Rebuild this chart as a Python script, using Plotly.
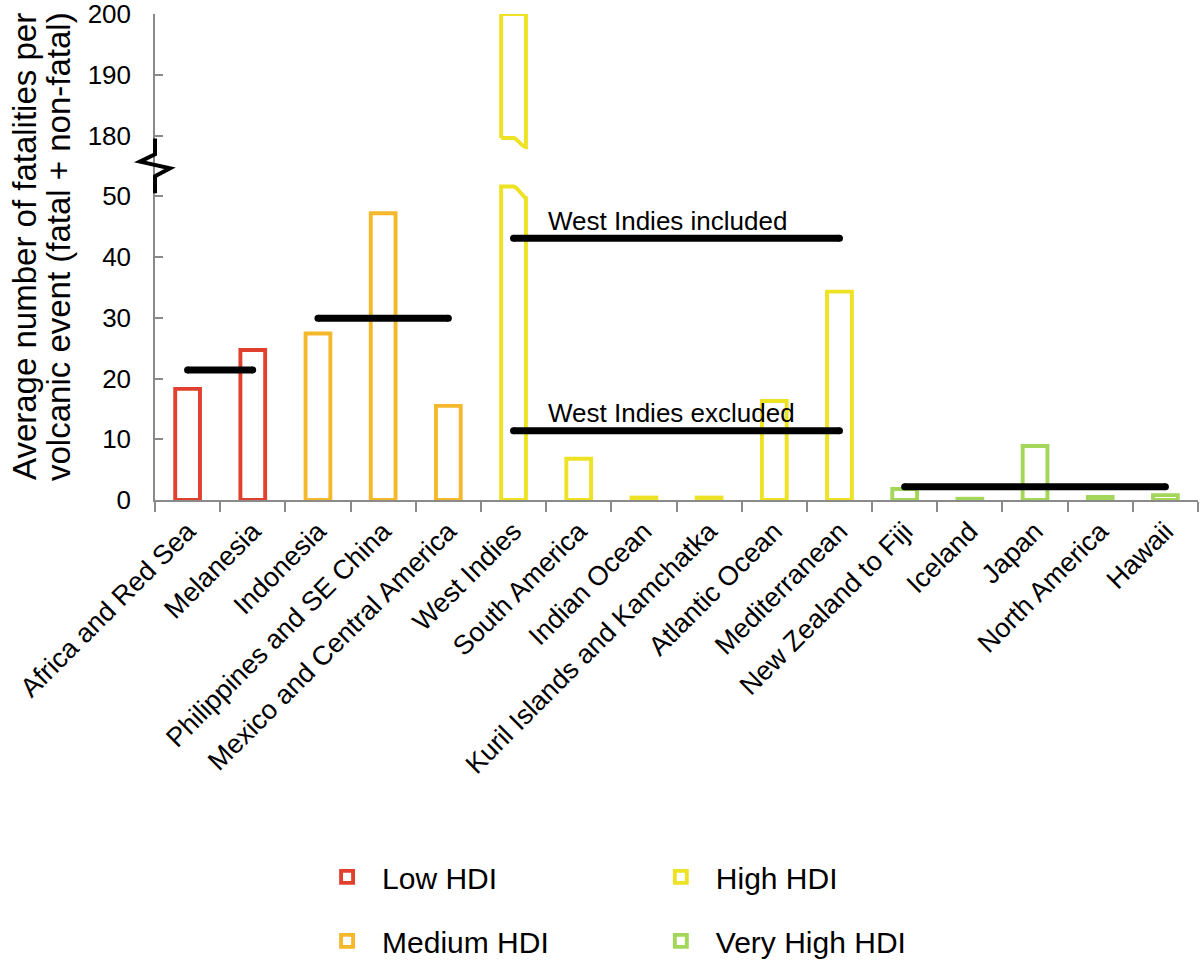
import numpy as np
import plotly.graph_objects as go

# ---------------- data ----------------
categories = ["Africa and Red Sea", "Melanesia", "Indonesia", "Philippines and SE China",
              "Mexico and Central America", "West Indies", "South America", "Indian Ocean",
              "Kuril Islands and Kamchatka", "Atlantic Ocean", "Mediterranean",
              "New Zealand to Fiji", "Iceland", "Japan", "North America", "Hawaii"]
values = [18.3, 24.7, 27.4, 47.2, 15.5, 200.0, 6.8, 0.4, 0.4, 16.3, 34.3, 1.8, 0.2, 8.9, 0.5, 0.8]
hdi_group = ["Low HDI"] * 2 + ["Medium HDI"] * 3 + ["High HDI"] * 6 + ["Very High HDI"] * 5
group_names = ["Low HDI", "Medium HDI", "High HDI", "Very High HDI"]
group_colors = {"Low HDI": "#E2402F", "Medium HDI": "#F5B82A",
                "High HDI": "#EDE224", "Very High HDI": "#A4D65A"}

# group averages (black lines)
mean_labels = ["Low HDI", "Medium HDI", "West Indies included", "West Indies excluded", "Very High HDI"]
mean_values = [21.4, 29.9, 43.1, 11.4, 2.2]
mean_groups = ["Low HDI", "Medium HDI", "High HDI", "High HDI", "Very High HDI"]

# y axis ticks (broken axis: 50 -> 180)
y_tick_labels = [0, 10, 20, 30, 40, 50, 180, 190, 200]
axis_break_from, axis_break_to = 50, 180
# West Indies bar break edges (real values: left edge, right edge)
bar_break_lower = (51.6, 49.7)
bar_break_upper = (179.6, 178.1)

y_title_lines = ["Average number of fatalities per", "volcanic event (fatal + non-fatal)"]

FONT = "Liberation Sans, Arial, Helvetica, sans-serif"
BAR_W = 0.38
LW = 3.9
W, H = 1200, 962
ML, MR, MT, MB = 155, 2, 14, 462


def to_plot(v):
    v = np.asarray(v, dtype=float)
    gap = axis_break_to - (axis_break_from + 10)
    return np.where(v <= axis_break_from + 5, v, v - gap)


idx = np.arange(len(categories))
wi = categories.index("West Indies")

fig = go.Figure()

# bars per group
for g in group_names:
    sel = [i for i in idx if hdi_group[i] == g and i != wi]
    fig.add_trace(go.Bar(
        x=[int(i) for i in sel], y=[values[i] for i in sel], width=BAR_W,
        marker=dict(color="white", line=dict(color=group_colors[g], width=LW)),
        name=g, legendgroup=g,
        legend="legend" if g in ("Low HDI", "Medium HDI") else "legend2",
        showlegend=True, hoverinfo="skip"))

# West Indies broken bar, drawn as two outlined pieces
x0, x1, xm = wi - BAR_W / 2, wi + BAR_W / 2, wi
t = np.linspace(0, 1, 21)
cx = xm + (x1 - xm) * t
lo_l, lo_r = to_plot(bar_break_lower)
up_l, up_r = to_plot(bar_break_upper)
top = float(to_plot(values[wi]))
cy_lo = lo_l - (lo_l - lo_r) * (1 - np.cos(np.pi * t)) / 2
cy_up = up_l - (up_l - up_r) * (1 - np.cos(np.pi * t)) / 2
col = group_colors[hdi_group[wi]]
lower_x = [x0, x0, xm] + list(cx) + [x1, x0]
lower_y = [0, lo_l, lo_l] + list(cy_lo) + [0, 0]
upper_x = [x0, x0, x1] + list(cx[::-1]) + [x0]
upper_y = [up_l, top, top] + list(cy_up[::-1]) + [up_l]
for xs, ys in ((lower_x, lower_y), (upper_x, upper_y)):
    fig.add_trace(go.Scatter(x=xs, y=ys, mode="lines", fill="toself", fillcolor="white",
                             line=dict(color=col, width=LW), showlegend=False,
                             hoverinfo="skip", cliponaxis=False))

# mean lines
for lab, m, g in zip(mean_labels, mean_values, mean_groups):
    members = [i for i in idx if hdi_group[i] == g]
    xs = [int(members[0]), int(members[-1])]
    fig.add_trace(go.Scatter(x=xs, y=[m, m], mode="lines+markers",
                             line=dict(color="black", width=7),
                             marker=dict(color="black", size=7),
                             showlegend=False, hoverinfo="skip", cliponaxis=False))
    if lab.startswith("West Indies"):
        fig.add_annotation(x=xs[0] + 0.5, y=m + 2.9, text=lab, showarrow=False,
                           xanchor="left", yanchor="middle",
                           font=dict(family=FONT, size=26, color="black"))

# y axis title, one annotation per line (tight line spacing as in the original)
pw, ph = W - ML - MR, H - MT - MB
for k, (line, xc) in enumerate(zip(y_title_lines, [24, 58])):
    fig.add_annotation(x=(xc - ML) / pw, y=(H - MB - 247) / ph, xref="paper", yref="paper",
                       text=line, textangle=-90, showarrow=False,
                       xanchor="center", yanchor="middle",
                       font=dict(family=FONT, size=33, color="black"))

# axis break marker
yb = [59.5, 56.9, 55.7, 54.6, 53.3, 50.5]
xb = [0, 0, -0.0144, 0.0144, 0, 0]
path = "M " + " L ".join(f"{a},{b}" for a, b in zip(xb, yb))
fig.add_shape(type="path", path=path, xref="paper", yref="y",
              line=dict(color="black", width=4), layer="above")

tick_pos = [float(to_plot(v)) for v in y_tick_labels]

fig.update_layout(
    width=W, height=H,
    margin=dict(l=ML, r=MR, t=MT, b=MB, autoexpand=False),
    paper_bgcolor="white", plot_bgcolor="white",
    font=dict(family=FONT, color="black"),
    barmode="overlay",
    xaxis=dict(range=[-0.5, len(categories) - 0.5], tickvals=[int(i) for i in idx],
               ticktext=categories, tickangle=-45, tickfont=dict(size=27),
               ticks="outside", ticklen=0, ticklabelstandoff=3,
               minor=dict(tick0=0.5, dtick=1, ticks="outside", ticklen=10,
                          tickcolor="#8a8a8a", tickwidth=1.5, showgrid=False),
               showline=True, linecolor="#8a8a8a", linewidth=1.5, automargin=False,
               showgrid=False, zeroline=False, fixedrange=True),
    yaxis=dict(range=[0, tick_pos[-1]], tickvals=tick_pos,
               ticktext=[str(v) for v in y_tick_labels], tickfont=dict(size=26),
               ticks="inside", ticklen=8, tickcolor="#8a8a8a", tickwidth=1.5,
               ticklabelstandoff=17, ticklabeloverflow="allow", automargin=False,
               showline=True, linecolor="#8a8a8a", linewidth=1.5,
               showgrid=False, zeroline=False, fixedrange=True),
    legend=dict(x=0.1506, y=-0.722, xanchor="left", yanchor="top", orientation="v",
                font=dict(size=30), tracegroupgap=22, itemwidth=60,
                bgcolor="rgba(0,0,0,0)"),
    legend2=dict(x=0.4706, y=-0.722, xanchor="left", yanchor="top", orientation="v",
                 font=dict(size=30), tracegroupgap=22, itemwidth=60,
                 bgcolor="rgba(0,0,0,0)"),
    showlegend=True,
)

fig.write_html("out.html", config={"displayModeBar": False},
               post_script="document.body.style.margin='0';")
